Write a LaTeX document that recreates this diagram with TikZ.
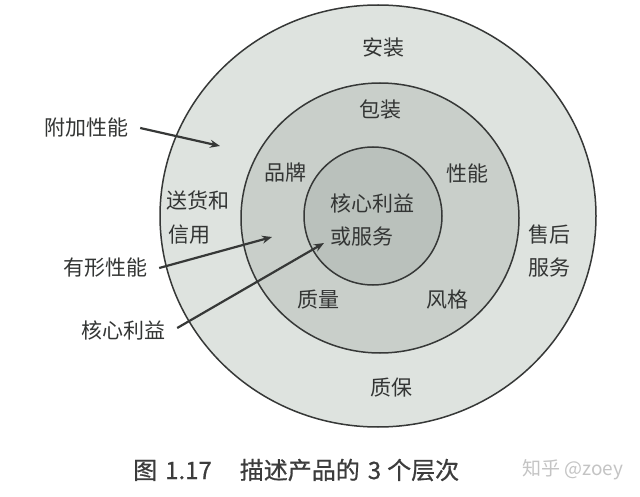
\documentclass[tikz,border=0pt]{standalone}
\usepackage{fontspec}
\newfontfamily\cjk{Noto Sans CJK SC}
\newfontfamily\cjkcap{Noto Sans CJK SC}[FakeBold=0.6]
\usetikzlibrary{arrows.meta}
\definecolor{ringA}{HTML}{DEE3DF}
\definecolor{ringB}{HTML}{C9CFCA}
\definecolor{ringC}{HTML}{BAC1BC}
\definecolor{edge}{HTML}{363837}
\definecolor{txt}{HTML}{333534}
\definecolor{cap}{HTML}{3C3C3C}
\definecolor{wm}{HTML}{C4C4C4}
\begin{document}
\begin{tikzpicture}[x=1pt,y=-1pt,
  ring/.style={draw=edge, line width=1.5pt},
  lab/.style={font=\cjk\fontsize{21}{24}\selectfont, text=txt, inner sep=0pt},
  side/.style={font=\cjk\fontsize{21}{24}\selectfont, text=txt, inner sep=6pt},
  arr/.style={draw=edge, line width=2.2pt, -{Stealth[length=10pt,width=8pt]}},
  capt/.style={font=\cjkcap\fontsize{24}{28}\selectfont, text=cap, inner sep=0pt},
  wmark/.style={font=\cjk\fontsize{19}{22}\selectfont, text=wm, inner sep=0pt}]
\useasboundingbox (0,0) rectangle (640,497);
\fill[white] (0,0) rectangle (640,497);
% rings
\draw[ring, fill=ringA] (378,216) ellipse [x radius=218, y radius=211];
\draw[ring, fill=ringB] (380,218) ellipse [x radius=139, y radius=135];
\draw[ring, fill=ringC] (373,216) ellipse [x radius=69, y radius=69];
% ring labels
\node[lab] (anz) at (383,48) {安装};
\node[lab] (bz) at (380,110) {包装};
\node[lab] (pp) at (285,173) {品牌};
\node[lab] (xn) at (467,173) {性能};
\node[lab, anchor=west] (sh) at (166,200) {送货和};
\node[lab, anchor=west] (xy) at (168,235) {信用};
\node[lab, anchor=west] (hx) at (330,203) {核心利益};
\node[lab, anchor=west] (fw) at (330,237) {或服务};
\node[lab] (shh) at (549,235) {售后};
\node[lab] (fww) at (549,268) {服务};
\node[lab] (zl) at (318,300) {质量};
\node[lab] (fg) at (447,300) {风格};
\node[lab] (zb) at (391,388) {质保};
% side labels
\node[side] (l1) at (86,128) {附加性能};
\node[side] (l2) at (105,268) {有形性能};
\node[side] (l3) at (123,330) {核心利益};
\coordinate (t1) at (220,146);
\coordinate (t2) at (272,237);
\coordinate (t3) at (324,243);
\draw[arr] (l1.east) ++(6,0) -- (t1);
\draw[arr] (l2.east) ++(6,0) -- (t2);
\draw[arr] (l3.east) ++(6,-2) -- (t3);
% caption
\node[capt, anchor=west] (cp) at (133,470) {图\hspace{8pt}1.17\hspace{28pt}描述产品的\hspace{8pt}3\hspace{6pt}个层次};
\node[wmark, anchor=west] (wmk) at (522,470) {知乎 @zoey};
\end{tikzpicture}
\end{document}
